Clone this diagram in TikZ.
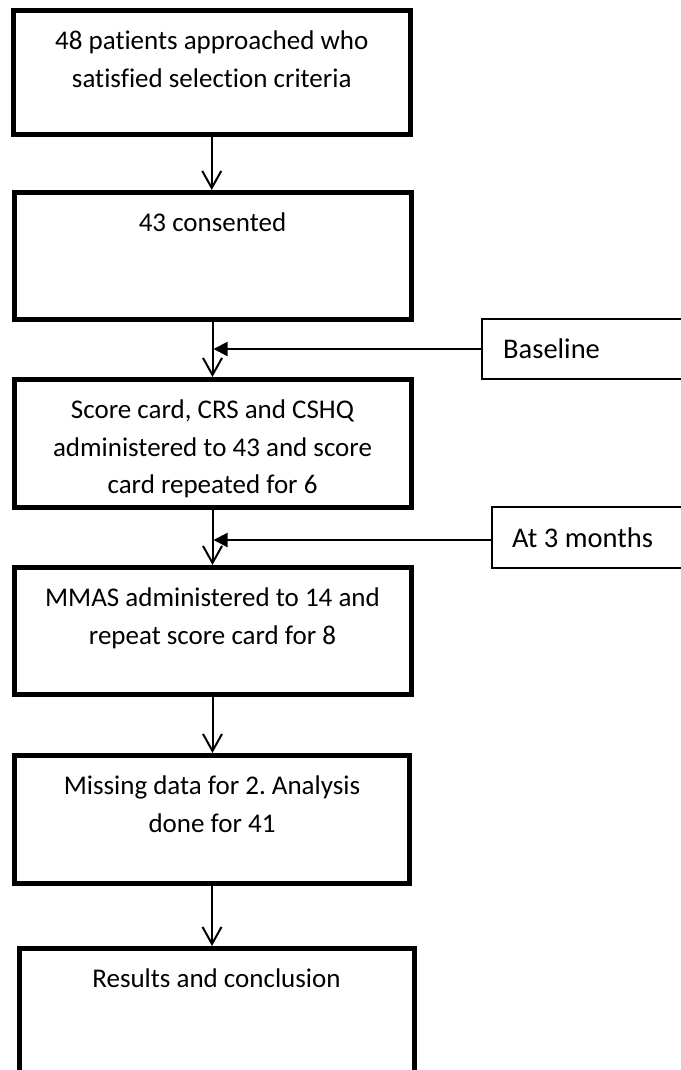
\documentclass[tikz,border=0pt]{standalone}
\usepackage{fontspec}
\setmainfont{Carlito}[Ligatures=NoCommon]
\frenchspacing
\usetikzlibrary{arrows.meta}
\begin{document}
\begin{tikzpicture}[x=1pt,y=-1pt,
  stage/.style={draw, line width=5pt, inner sep=0pt},
  stagetext/.style={anchor=north, inner sep=0pt, align=center,
    font=\fontsize{27pt}{37.5pt}\selectfont},
  tag/.style={draw, line width=1.5pt, anchor=west, inner sep=0pt},
  tagtext/.style={anchor=west, inner sep=0pt, font=\fontsize{28.5pt}{34pt}\selectfont},
  flow/.style={line width=2pt, -{Straight Barb[length=17pt, width=19pt]}},
  tagarrow/.style={line width=2pt, -{Triangle[length=14pt, width=14pt]}}]
\useasboundingbox (0,0) rectangle (680,1070);

% stage boxes
\node[stage, minimum width=396.5pt, minimum height=124pt]   (b1) at (211.75,72.5)  {};
\node[stage, minimum width=397pt,   minimum height=126.5pt] (b2) at (212.5,255.75) {};
\node[stage, minimum width=397pt,   minimum height=127.5pt] (b3) at (212.5,443.25) {};
\node[stage, minimum width=397pt,   minimum height=127pt]   (b4) at (212.5,631)    {};
\node[stage, minimum width=395pt,   minimum height=127.5pt] (b5) at (212,819.25)   {};
\node[stage, minimum width=395pt,   minimum height=124.5pt] (b6) at (216.5,1010.75) {};

% stage texts, set at the top of each box
\node[stagetext] (s1) at ([yshift=-23pt]b1.north) {48 patients approached who\\satisfied selection criteria};
\node[stagetext] (s2) at ([yshift=-23pt]b2.north) {43 consented};
\node[stagetext] (s3) at ([yshift=-23pt]b3.north) {Score card, CRS and CSHQ\\administered to 43 and score\\card repeated for 6};
\node[stagetext] (s4) at ([yshift=-23pt]b4.north) {MMAS administered to 14 and\\repeat score card for 8};
\node[stagetext] (s5) at ([yshift=-23pt]b5.north) {Missing data for 2. Analysis\\done for 41};
\node[stagetext] (s6) at ([yshift=-23pt]b6.north) {Results and conclusion};

% time-point tags on the right
\node[tag, minimum width=209pt, minimum height=60pt] (t1) at (481,349) {};
\node[tagtext] (l1) at ([xshift=22pt]t1.west) {Baseline};
\node[tag, minimum width=199pt, minimum height=61pt] (t2) at (491,537.5) {};
\node[tagtext] (l2) at ([xshift=21pt]t2.west) {At 3 months};

% flow arrows
\draw[flow] (b1.south) -- (b1.south |- b2.north);
\draw[flow] (b2.south) -- (b2.south |- b3.north);
\draw[flow] (b3.south) -- (b3.south |- b4.north);
\draw[flow] (b4.south) -- (b4.south |- b5.north);
\draw[flow] (b5.south) -- (b5.south |- b6.north);

% tag arrows meeting the flow lines
\draw[tagarrow] (t1.west) -- ([xshift=1pt]t1.west -| b2.south);
\draw[tagarrow] ([yshift=-2.5pt]t2.west) -- ([xshift=1pt,yshift=-2.5pt]t2.west -| b3.south);
\end{tikzpicture}
\end{document}
